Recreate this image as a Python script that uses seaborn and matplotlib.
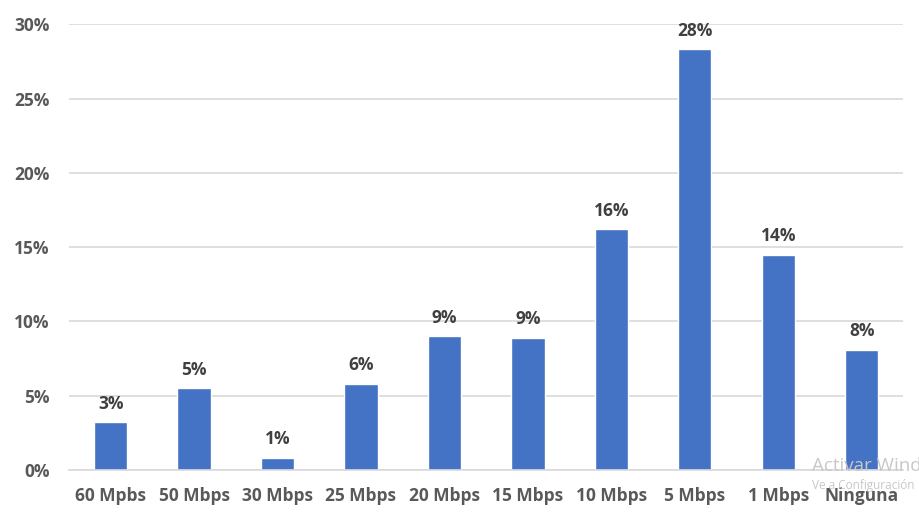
import matplotlib
matplotlib.use('Agg')
import matplotlib.pyplot as plt
import seaborn as sns
import pandas as pd
from matplotlib.ticker import PercentFormatter

categories = ['60 Mpbs', '50 Mbps', '30 Mbps', '25 Mbps', '20 Mbps',
              '15 Mbps', '10 Mbps', '5 Mbps', '1 Mbps', 'Ninguna']
values = [0.032, 0.055, 0.008, 0.058, 0.090, 0.089, 0.162, 0.283, 0.145, 0.081]
labels = ['3%', '5%', '1%', '6%', '9%', '9%', '16%', '28%', '14%', '8%']

df = pd.DataFrame({'velocidad': categories, 'pct': values})

sns.set_style('white')
plt.rcParams['font.family'] = ['Open Sans', 'DejaVu Sans']

fig = plt.figure(figsize=(9.19, 5.15), dpi=100)
ax = fig.add_axes([0.075, 0.0874, 0.908, 0.8656])

sns.barplot(data=df, x='velocidad', y='pct', color='#4472C4', saturation=1,
            width=0.4, ax=ax)

for i, (v, lab) in enumerate(zip(values, labels)):
    ax.annotate(lab, (i, v), xytext=(0, 7), textcoords='offset points',
                ha='center', va='bottom', fontsize=12.5, fontweight='bold',
                color='#404040')

ax.set_ylim(0, 0.30)
ax.set_xlim(-0.5, len(categories) - 0.5)
ax.yaxis.set_major_formatter(PercentFormatter(1.0, decimals=0))
ax.set_yticks([0, 0.05, 0.10, 0.15, 0.20, 0.25, 0.30])
ax.grid(axis='y', color='#d9d9d9', linewidth=1.2)
ax.set_axisbelow(True)
for s in ['top', 'right', 'left']:
    ax.spines[s].set_visible(False)
ax.spines['bottom'].set_color('#d9d9d9')
ax.spines['bottom'].set_linewidth(1.2)
ax.set_xlabel('')
ax.set_ylabel('')
ax.tick_params(axis='both', length=0, labelsize=12.5, colors='#595959')
ax.tick_params(axis='x', pad=12)
ax.tick_params(axis='y', pad=14)
for t in ax.get_xticklabels() + ax.get_yticklabels():
    t.set_fontweight('bold')

# marca de agua de la captura original
fig.text(812 / 919, 1 - 466 / 515, 'Activar Wind', fontsize=13.5,
         color='#c8c8c8', ha='left', va='center')
fig.text(812 / 919, 1 - 486 / 515, 'Ve a Configuración', fontsize=8.5,
         color='#c8c8c8', ha='left', va='center')

fig.savefig('out.png', dpi=100)
